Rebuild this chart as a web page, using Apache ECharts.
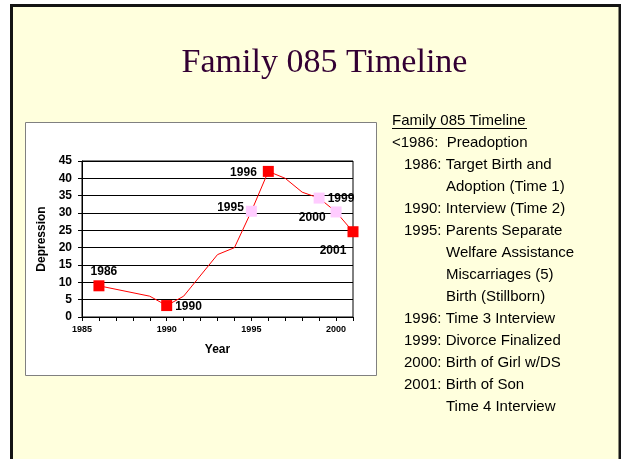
<!DOCTYPE html>
<html>
<head>
<meta charset="utf-8">
<script src="https://cdn.jsdelivr.net/npm/echarts@6/dist/echarts.min.js"></script>
<style>
  html, body { margin: 0; padding: 0; background: #fff; }
  #main { width: 621px; height: 459px; }
</style>
</head>
<body>
<div id="main"></div>
<script>
// depression score by year
var years = [1986, 1989, 1990, 1991, 1993, 1994, 1995, 1996, 1997, 1998, 1999, 2000, 2001];
var depression = [9, 6, 3.3, 6, 18, 20, 30.5, 42, 40, 36, 34.3, 30.3, 24.6];
// years with a marker and a label; pink ones are the "event" years
var markedYears = [1986, 1990, 1995, 1996, 1999, 2000, 2001];
var pinkYears = [1995, 1999, 2000];
var yTicks = [0, 45, 5];
var xTicks = [1985, 2001, 1];

var timelineTitle = 'Family 085 Timeline';
var timelineLines = [
  ['<1986:  Preadoption', 0],
  ['1986: Target Birth and', 1],
  ['Adoption (Time 1)', 2],
  ['1990: Interview (Time 2)', 1],
  ['1995: Parents Separate', 1],
  ['Welfare Assistance', 2],
  ['Miscarriages (5)', 2],
  ['Birth (Stillborn)', 2],
  ['1996: Time 3 Interview', 1],
  ['1999: Divorce Finalized', 1],
  ['2000: Birth of Girl w/DS', 1],
  ['2001: Birth of Son', 1],
  ['Time 4 Interview', 2]
];

// label placement for each marked point
var labelPos = {
  1986: { position: 'top', distance: 4, offset: [5, 1] },
  1990: { position: 'right', distance: 3, offset: [0, 1] },
  1995: { position: 'left', distance: 2, offset: [0, -4] },
  1996: { position: 'left', distance: 6, offset: [0, 1] },
  1999: { position: 'right', distance: 3, offset: [0, 1] },
  2000: { position: 'left', distance: 5, offset: [0, 6] },
  2001: { position: 'bottom', distance: 5, offset: [-20, 2] }
};

var labelFont = { fontFamily: 'Liberation Sans', fontWeight: 'bold', fontSize: 12, color: '#000' };

var lineData = years.map(function (y, i) { return [y, depression[i]]; });
var markData = markedYears.map(function (y) {
  var i = years.indexOf(y);
  var pink = pinkYears.indexOf(y) >= 0;
  return {
    value: [y, depression[i]],
    itemStyle: { color: pink ? '#ffccff' : '#ff0000', opacity: 1 },
    label: Object.assign({ show: true, formatter: String(y) }, labelFont, labelPos[y])
  };
});

var colX = [392, 404, 446];
var textEls = timelineLines.map(function (l, i) {
  return {
    type: 'text',
    x: colX[l[1]],
    y: 142.8 + i * 22,
    style: {
      text: l[0],
      font: '15px "Liberation Sans", Arial, sans-serif',
      fill: '#000',
      align: 'left',
      verticalAlign: 'middle'
    }
  };
});

var chart = echarts.init(document.getElementById('main'));
chart.setOption({
  animation: false,
  backgroundColor: '#ffffff',
  graphic: {
    elements: [
      {
        type: 'rect', z: -20, silent: true,
        shape: { x: 11.5, y: 5.5, width: 608.5, height: 470 },
        style: { fill: '#ffffdd', stroke: '#141414', lineWidth: 3 }
      },
      {
        type: 'rect', z: -10, silent: true,
        shape: { x: 25.5, y: 122.5, width: 351, height: 253 },
        style: { fill: '#ffffff', stroke: '#808080', lineWidth: 1 }
      },
      {
        type: 'text', x: 324.5, y: 63.5,
        style: {
          text: 'Family 085 Timeline',
          font: '34px "Liberation Serif", "Times New Roman", serif',
          fill: '#330033', align: 'center', verticalAlign: 'middle'
        }
      },
      {
        type: 'text', x: 392, y: 120.5,
        style: {
          text: timelineTitle,
          font: '15px "Liberation Sans", Arial, sans-serif',
          fill: '#000', align: 'left', verticalAlign: 'middle'
        }
      },
      {
        type: 'line',
        shape: { x1: 392, y1: 128.5, x2: 527, y2: 128.5 },
        style: { stroke: '#000', lineWidth: 1 }
      }
    ].concat(textEls)
  },
  grid: {
    left: 82, right: 268, top: 161, bottom: 142,
    show: true, borderColor: '#000', borderWidth: 1,
    backgroundColor: 'transparent'
  },
  xAxis: {
    type: 'value',
    min: xTicks[0], max: xTicks[1], interval: xTicks[2],
    name: 'Year', nameLocation: 'middle', nameGap: 27,
    nameTextStyle: { fontFamily: 'Liberation Sans', fontWeight: 'bold', fontSize: 12, color: '#000' },
    axisLine: { show: true, lineStyle: { color: '#000', width: 1 } },
    axisTick: { show: true, length: 4, lineStyle: { color: '#000' } },
    splitLine: { show: false },
    axisLabel: {
      fontFamily: 'Liberation Sans', fontWeight: 'bold', fontSize: 9, color: '#000', margin: 8,
      showMaxLabel: true,
      formatter: function (v) { return v % 5 === 0 ? String(v) : ''; }
    }
  },
  yAxis: {
    type: 'value',
    min: yTicks[0], max: yTicks[1], interval: yTicks[2],
    name: 'Depression', nameLocation: 'middle', nameGap: 34, nameRotate: 90,
    nameTextStyle: { fontFamily: 'Liberation Sans', fontWeight: 'bold', fontSize: 12, color: '#000' },
    axisLine: { show: true, lineStyle: { color: '#000', width: 1 } },
    axisTick: { show: true, length: 4, lineStyle: { color: '#000' } },
    splitLine: { show: true, lineStyle: { color: '#000', width: 1 } },
    axisLabel: { fontFamily: 'Liberation Sans', fontWeight: 'bold', fontSize: 12, color: '#000', margin: 10 }
  },
  series: [
    {
      type: 'line',
      data: lineData,
      symbol: 'none',
      lineStyle: { color: '#ff0000', width: 1 },
      z: 3
    },
    {
      type: 'scatter',
      data: markData,
      symbol: 'rect',
      symbolSize: 11,
      itemStyle: { opacity: 1 },
      label: labelFont,
      z: 4
    }
  ]
});
</script>
</body>
</html>
